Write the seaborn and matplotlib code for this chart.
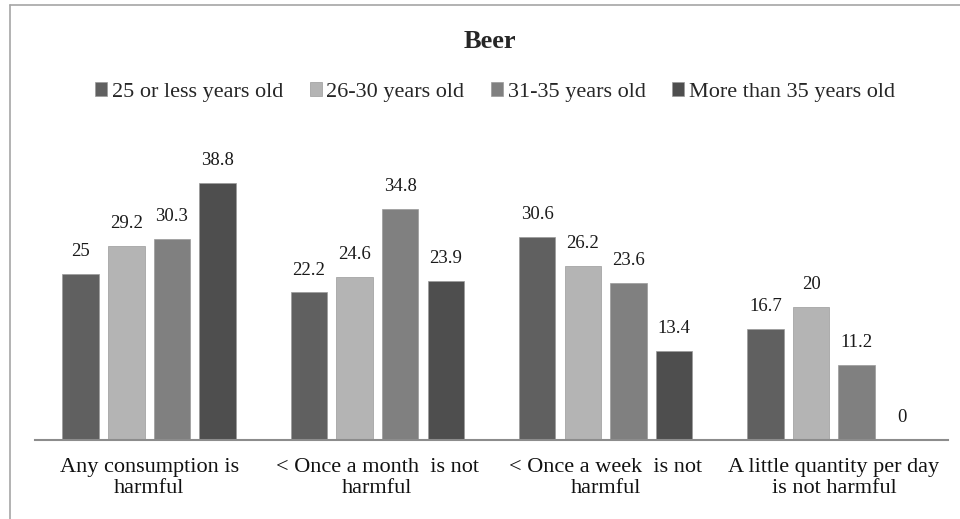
import matplotlib
matplotlib.use("Agg")
import matplotlib.pyplot as plt
from matplotlib.lines import Line2D
import seaborn as sns
import pandas as pd


# values (percent)
categories = ["Any consumption is\nharmful",
              "< Once a month  is not\nharmful",
              "< Once a week  is not\nharmful",
              "A little quantity per day\nis not harmful"]
age_groups = ["25 or less years old", "26-30 years old",
              "31-35 years old", "More than 35 years old"]
under_25 = [25, 22.2, 30.6, 16.7]
age_26_30 = [29.2, 24.6, 26.2, 20]
age_31_35 = [30.3, 34.8, 23.6, 11.2]
over_35 = [38.8, 23.9, 13.4, 0]

colors = ["#606060", "#b4b4b4", "#808080", "#4e4e4e"]

rows = []
for age, vals in zip(age_groups, [under_25, age_26_30, age_31_35, over_35]):
    for cat, v in zip(categories, vals):
        rows.append({"category": cat, "age": age, "value": v})
df = pd.DataFrame(rows)

sns.set_theme(style="white")
plt.rcParams['font.family'] = ['Liberation Serif', 'DejaVu Serif']

fig = plt.figure(figsize=(9.6, 5.19), dpi=100)
ax = fig.add_axes([35 / 960, 1 - 439.5 / 519, 913 / 960, 298 / 519])

sns.barplot(data=df, x="category", y="value", hue="age", order=categories,
            hue_order=age_groups, palette=colors, width=0.8, gap=0.2,
            saturation=1, edgecolor="#9a9a9a", linewidth=0.5, ax=ax)

for cont in ax.containers:
    ax.bar_label(cont, fmt="%g", padding=10, fontsize=13.5, color="#1a1a1a")

ax.set_ylim(0, 45)
ax.set_xlim(-0.5, 3.5)
ax.set_xlabel("")
ax.set_ylabel("")
ax.set_yticks([])
ax.tick_params(axis="x", length=0, labelsize=16, pad=13, colors="#111111")
for lbl in ax.get_xticklabels():
    lbl.set_linespacing(1.15)
for s in ["left", "right", "top"]:
    ax.spines[s].set_visible(False)
ax.spines["bottom"].set_color("#8c8c8c")
ax.spines["bottom"].set_linewidth(1.5)

handles, labels = ax.get_legend_handles_labels()
ax.get_legend().remove()
fig.legend(handles, labels, loc="center", bbox_to_anchor=(495 / 960, 1 - 92 / 519),
           ncol=4, frameon=False, fontsize=16, handlelength=0.55,
           handleheight=0.55, handletextpad=0.2, columnspacing=1.2)

fig.text(490 / 960, 1 - 42 / 519, "Beer", ha="center", va="center",
         fontsize=19, fontweight="bold")

# outer chart frame (only top and left edges show)
fig.add_artist(Line2D([10 / 960, 1], [1 - 5 / 519, 1 - 5 / 519],
                      transform=fig.transFigure, color="#a6a6a6", lw=1.2))
fig.add_artist(Line2D([10 / 960, 10 / 960], [0, 1 - 5 / 519],
                      transform=fig.transFigure, color="#a6a6a6", lw=1.2))

fig.savefig("out.png", dpi=100)
